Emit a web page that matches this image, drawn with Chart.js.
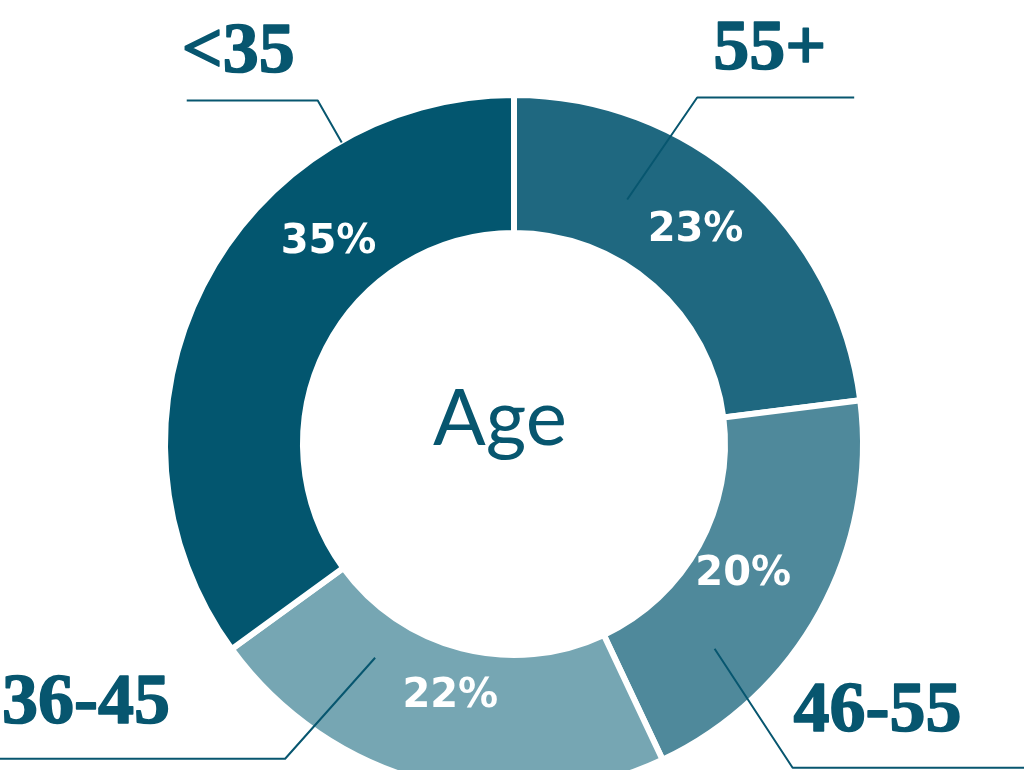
<!DOCTYPE html>
<html>
<head>
<meta charset="utf-8">
<script src="https://cdn.jsdelivr.net/npm/chart.js@4"></script>
<style>
    html, body { margin: 0; padding: 0; background: #ffffff; overflow: hidden; }
    #wrap { width: 1024px; height: 770px; overflow: hidden; }
    #ageChart { display: block; }
</style>
</head>
<body>
<div id="wrap"><canvas id="ageChart" width="1024" height="888"></canvas></div>
<script>
// chart data
const ageGroups = ['55+', '46-55', '36-45', '<35'];
const agePercents = [23, 20, 22, 35];
const sliceColors = ['#1f6880', '#4f899b', '#76a6b3', '#03566f'];
const centerTitle = 'Age';

const inkColor = '#07566f';
const gapWidth = 6;

// where the % label sits inside each slice (fraction along arc, fraction across ring)
const percentPlacement = [
    { along: 0.48, across: 0.53 },
    { along: 0.50, across: 0.36 },
    { along: 0.50, across: 0.32 },
    { along: 0.667, across: 0.48 }
];

// leader line layout: start point on slice, elbow offset, horizontal run, text offset
const leaderLayout = [
    { along: 0.30, across: 0.42, elbow: [70, -102], run: 157, text: [16, -28], from: 'elbow' },
    { along: 0.733, across: 0.55, elbow: [78, 119], run: 260, text: [1, -37], from: 'elbow' },
    { along: 0.735, across: 0.31, elbow: [-90, 101], run: -300, text: [2, -36], from: 'end' },
    { along: 0.764, across: 1.01, elbow: [-24, -42], run: -131, text: [-5, -28], from: 'end' }
];

function pointOnArc(arc, along, across) {
    const p = arc.getProps(['x', 'y', 'startAngle', 'endAngle', 'innerRadius', 'outerRadius'], true);
    const inner = p.innerRadius + gapWidth / 2;
    const outer = p.outerRadius - gapWidth / 2;
    const a = p.startAngle + (p.endAngle - p.startAngle) * along;
    const r = inner + (outer - inner) * across;
    return { x: p.x + Math.cos(a) * r, y: p.y + Math.sin(a) * r, cx: p.x, cy: p.y };
}

const ageLabelsPlugin = {
    id: 'ageLabels',
    afterDatasetsDraw(chart) {
        const ctx = chart.ctx;
        const arcs = chart.getDatasetMeta(0).data;
        ctx.save();

        // percentages inside slices
        ctx.fillStyle = '#ffffff';
        ctx.font = 'bold 40px "DejaVu Sans"';
        ctx.textAlign = 'center';
        ctx.textBaseline = 'alphabetic';
        arcs.forEach(function (arc, i) {
            const pos = pointOnArc(arc, percentPlacement[i].along, percentPlacement[i].across);
            ctx.fillText(agePercents[i] + '%', pos.x, pos.y + 15);
        });

        // leader lines and group names
        ctx.strokeStyle = inkColor;
        ctx.fillStyle = inkColor;
        ctx.font = 'bold 72px "Liberation Serif"';
        ctx.textAlign = 'left';
        ctx.lineJoin = 'round';
        arcs.forEach(function (arc, i) {
            const lay = leaderLayout[i];
            const start = pointOnArc(arc, lay.along, lay.across);
            const ex = start.x + lay.elbow[0];
            const ey = start.y + lay.elbow[1];
            const endX = ex + lay.run;
            ctx.lineWidth = 2;
            ctx.beginPath();
            ctx.moveTo(start.x, start.y);
            ctx.lineTo(ex, ey);
            ctx.lineTo(endX, ey);
            ctx.stroke();
            const tx = (lay.from === 'elbow' ? ex : Math.max(endX, 0)) + lay.text[0];
            ctx.fillText(ageGroups[i], tx, ey + lay.text[1]);
            // heavier display weight
            ctx.lineWidth = 1.6;
            ctx.strokeText(ageGroups[i], tx, ey + lay.text[1]);
        });

        // centre title
        const c = pointOnArc(arcs[0], 0, 0);
        ctx.font = '78px Lato';
        ctx.textAlign = 'center';
        ctx.fillText(centerTitle, c.cx - 14, c.cy + 1);
        ctx.restore();
    }
};

const ageCtx = document.getElementById('ageChart').getContext('2d');
new Chart(ageCtx, {
    type: 'doughnut',
    data: {
        labels: ageGroups,
        datasets: [{
            data: agePercents,
            backgroundColor: sliceColors,
            borderColor: '#ffffff',
            borderWidth: gapWidth,
            borderJoinStyle: 'miter',
            hoverOffset: 0
        }]
    },
    options: {
        responsive: false,
        animation: false,
        radius: 349,
        cutout: '60.46%',
        layout: { padding: { left: 4, right: 0, top: 0, bottom: 0 } },
        plugins: {
            legend: { display: false },
            tooltip: { enabled: false }
        }
    },
    plugins: [ageLabelsPlugin]
});
</script>
</body>
</html>
